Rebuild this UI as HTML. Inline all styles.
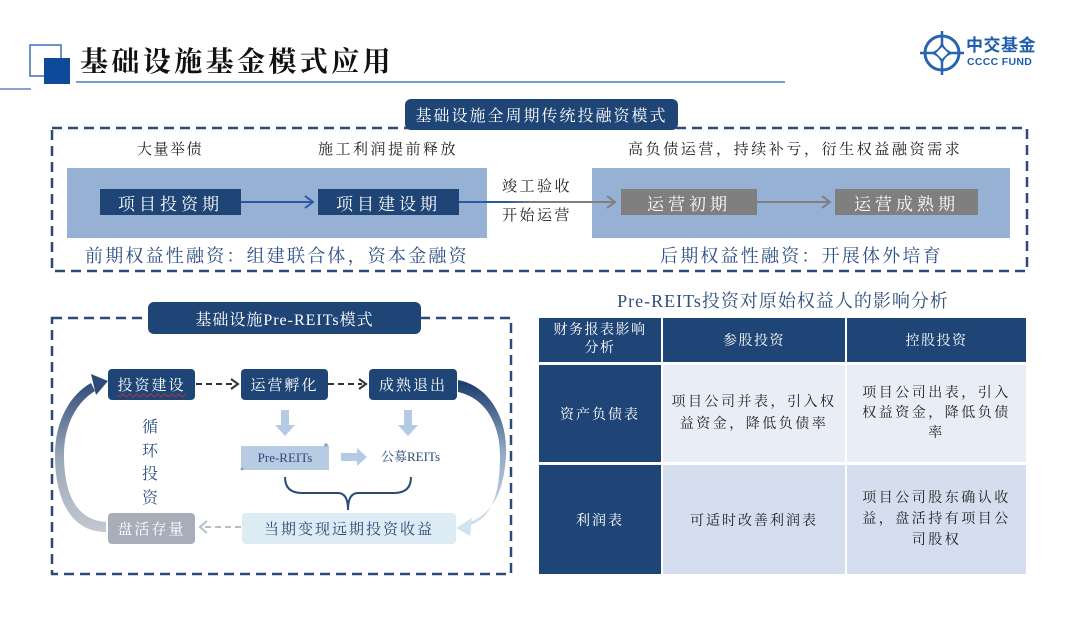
<!DOCTYPE html>
<html>
<head>
<meta charset="utf-8">
<style>
*{margin:0;padding:0;box-sizing:border-box;}
html,body{width:1080px;height:620px;background:#fff;overflow:hidden;}
body{position:relative;font-family:"Liberation Serif","Noto Serif CJK SC",serif;color:#222;}
.a{position:absolute;}
.c{display:flex;align-items:center;justify-content:center;text-align:center;}
.nav{background:#1f4476;color:#fff;}
.t{white-space:nowrap;}
</style>
</head>
<body>

<svg class="a" style="left:0;top:0" width="1080" height="620" viewBox="0 0 1080 620">
  <defs>
    <linearGradient id="gl" x1="0" y1="532" x2="0" y2="380" gradientUnits="userSpaceOnUse">
      <stop offset="0" stop-color="#c3c8d1"/>
      <stop offset="0.5" stop-color="#9aa6b8"/>
      <stop offset="1" stop-color="#2b4a78"/>
    </linearGradient>
    <linearGradient id="gr" x1="0" y1="384" x2="0" y2="530" gradientUnits="userSpaceOnUse">
      <stop offset="0" stop-color="#1f3f6e"/>
      <stop offset="0.45" stop-color="#8ea6c4"/>
      <stop offset="1" stop-color="#d2e3f0"/>
    </linearGradient>
    <linearGradient id="gline" x1="459" y1="0" x2="620" y2="0" gradientUnits="userSpaceOnUse">
      <stop offset="0" stop-color="#2c58a0"/>
      <stop offset="0.3" stop-color="#2c58a0"/>
      <stop offset="0.45" stop-color="#7f7f7f"/>
      <stop offset="1" stop-color="#7f7f7f"/>
    </linearGradient>
  </defs>

  <!-- header decorations -->
  <rect x="30" y="45" width="31" height="31" fill="none" stroke="#3f6fb4" stroke-width="1.5"/>
  <rect x="44" y="58" width="26" height="26" fill="#0e4a9b"/>
  <line x1="0" y1="89" x2="31" y2="89" stroke="#3f6fb4" stroke-width="1.2"/>
  <line x1="76" y1="82" x2="785" y2="82" stroke="#4f7fbe" stroke-width="1.5"/>

  <!-- logo icon -->
  <g stroke="#2a64b0" fill="none">
    <circle cx="942" cy="53" r="17" stroke-width="3"/>
    <line x1="942" y1="31" x2="942" y2="75" stroke-width="2.5"/>
    <line x1="920" y1="53" x2="964" y2="53" stroke-width="2.5"/>
  </g>
  <path d="M942,40 Q944,51 955,53 Q944,55 942,66 Q940,55 929,53 Q940,51 942,40 Z" fill="#2a64b0"/>
  <path d="M942,47 L948,53 L942,59 L936,53 Z" fill="#fff"/>

  <!-- top dashed box -->
  <rect x="52" y="128" width="975" height="143" fill="none" stroke="#2b4a78" stroke-width="2.5" stroke-dasharray="10,6"/>

  <!-- top light rects -->
  <rect x="67" y="168" width="420" height="70" fill="#97b1d4"/>
  <rect x="592" y="168" width="418" height="70" fill="#97b1d4"/>

  <!-- top arrows -->
  <line x1="241" y1="202" x2="312" y2="202" stroke="#2c58a0" stroke-width="2"/>
  <polyline points="305,196 313,202 305,208" fill="none" stroke="#2c58a0" stroke-width="2"/>
  <line x1="459" y1="202" x2="614" y2="202" stroke="url(#gline)" stroke-width="2"/>
  <polyline points="607,196 615,202 607,208" fill="none" stroke="#7f7f7f" stroke-width="2"/>
  <line x1="757" y1="202" x2="829" y2="202" stroke="#7f7f7f" stroke-width="2"/>
  <polyline points="822,196 830,202 822,208" fill="none" stroke="#7f7f7f" stroke-width="2"/>

  <!-- bottom-left dashed box -->
  <rect x="52" y="318" width="459" height="256" fill="none" stroke="#2b4a78" stroke-width="2.5" stroke-dasharray="10,6"/>

  <!-- dashed arrows between top boxes -->
  <line x1="196" y1="384" x2="234" y2="384" stroke="#2b3340" stroke-width="2" stroke-dasharray="6,4"/>
  <polyline points="231,379 238,384 231,389" fill="none" stroke="#2b3340" stroke-width="2"/>
  <line x1="328" y1="384" x2="362" y2="384" stroke="#2b3340" stroke-width="2" stroke-dasharray="6,4"/>
  <polyline points="359,379 366,384 359,389" fill="none" stroke="#2b3340" stroke-width="2"/>

  <!-- down arrows -->
  <path d="M281,410 H289 V425 H295 L285,436 L275,425 H281 Z" fill="#b5cbe3"/>
  <path d="M404,410 H412 V425 H418 L408,436 L398,425 H404 Z" fill="#b5cbe3"/>

  <!-- Pre-REITs scroll -->
  <path d="M241,446 H326 Q329,444 329,447 V470 H243 Q241,470 241,468 Z" fill="#b7cbe3"/>
  <circle cx="326" cy="445" r="1.8" fill="#8fa3bd"/>
  <circle cx="242" cy="469" r="1.5" fill="#8fa3bd"/>
  <!-- right arrow -->
  <path d="M341,453 H357 V448 L367,457 L357,466 V461 H341 Z" fill="#b5cbe3"/>

  <!-- brace -->
  <path d="M285,477 Q285,493 302,493 H338 Q348,493 348,510 Q348,493 358,493 H394 Q411,493 411,477" fill="none" stroke="#2b4a78" stroke-width="2"/>

  <!-- gray dashed arrow -->
  <line x1="241" y1="527" x2="203" y2="527" stroke="#b8bec8" stroke-width="2" stroke-dasharray="6,4"/>
  <polyline points="207,521 200,527 207,533" fill="none" stroke="#b8bec8" stroke-width="2"/>

  <!-- left curved arrow -->
  <path d="M106,522 C74,520 64,490 64,455 C64,424 77,402 95,391 L91,383 C71,394 55,420 55,455 C55,498 70,532 106,532 Z" fill="url(#gl)"/>
  <polygon points="108,381 91,374 96,395" fill="#2b4a78"/>

  <!-- right curved arrow -->
  <path d="M458,380 C490,386 508,420 506,455 C504,495 490,515 470,522 L468,526 C494,518 500,490 500,455 C500,425 486,398 458,392 Z" fill="url(#gr)"/>
  <polygon points="456,528 472,518 470,536" fill="#d2e3f0"/>
</svg>

<!-- title -->
<div class="a t" style="left:80px;top:45px;font-size:28px;letter-spacing:3.4px;font-weight:700;color:#111;line-height:36px;">基础设施基金模式应用</div>

<!-- logo text -->
<div class="a t" style="left:966px;top:36px;font-family:'Liberation Sans','Noto Sans CJK SC',sans-serif;font-weight:700;font-size:17px;color:#1d5fae;line-height:20px;letter-spacing:0.5px;">中交基金</div>
<div class="a t" style="left:967px;top:56px;font-family:'Liberation Sans',sans-serif;font-weight:700;font-size:10.5px;color:#1d5fae;line-height:12px;letter-spacing:0.3px;">CCCC FUND</div>

<!-- top tab -->
<div class="a c nav t" style="left:405px;top:99px;width:273px;height:31px;border-radius:6px;font-size:16px;letter-spacing:2px;">基础设施全周期传统投融资模式</div>

<!-- top labels -->
<div class="a t" style="left:137px;top:140px;font-size:15px;letter-spacing:1.5px;line-height:20px;">大量举债</div>
<div class="a t" style="left:318px;top:140px;font-size:15px;letter-spacing:2.5px;line-height:20px;">施工利润提前释放</div>
<div class="a t" style="left:628px;top:140px;font-size:15px;letter-spacing:2.6px;line-height:20px;">高负债运营，持续补亏，衍生权益融资需求</div>

<div class="a c nav t" style="left:100px;top:189px;width:141px;height:26px;font-size:17px;letter-spacing:4px;">项目投资期</div>
<div class="a c nav t" style="left:318px;top:189px;width:141px;height:26px;font-size:17px;letter-spacing:4px;">项目建设期</div>
<div class="a c t" style="left:621px;top:189px;width:136px;height:26px;background:#7f7f7f;color:#fff;font-size:17px;letter-spacing:4px;">运营初期</div>
<div class="a c t" style="left:835px;top:189px;width:143px;height:26px;background:#7f7f7f;color:#fff;font-size:17px;letter-spacing:4px;">运营成熟期</div>

<div class="a t" style="left:502px;top:177px;font-size:15px;letter-spacing:2.5px;line-height:20px;">竣工验收</div>
<div class="a t" style="left:502px;top:206px;font-size:15px;letter-spacing:2.5px;line-height:20px;">开始运营</div>

<div class="a t" style="left:85px;top:244px;font-size:18px;letter-spacing:2.2px;color:#2d4f85;line-height:24px;">前期权益性融资：组建联合体，资本金融资</div>
<div class="a t" style="left:660px;top:244px;font-size:18px;letter-spacing:2.2px;color:#2d4f85;line-height:24px;">后期权益性融资：开展体外培育</div>

<!-- bottom-left tab -->
<div class="a c nav t" style="left:148px;top:302px;width:273px;height:32px;border-radius:6px;font-size:16px;letter-spacing:1px;">基础设施Pre-REITs模式</div>

<div class="a c nav t" style="left:108px;top:369px;width:87px;height:31px;border-radius:4px;font-size:15px;letter-spacing:2px;"><span style="text-decoration:underline wavy #c03030;text-underline-offset:3px;text-decoration-thickness:1px;">投资建设</span></div>
<div class="a c nav t" style="left:241px;top:369px;width:87px;height:31px;border-radius:4px;font-size:15px;letter-spacing:2px;">运营孵化</div>
<div class="a c nav t" style="left:369px;top:369px;width:88px;height:31px;border-radius:4px;font-size:15px;letter-spacing:2px;">成熟退出</div>

<div class="a c t" style="left:241px;top:446px;width:88px;height:24px;font-size:13px;color:#2b4a78;">Pre-REITs</div>
<div class="a t" style="left:381px;top:448px;font-size:13px;color:#2b4a78;line-height:18px;">公募REITs</div>

<div class="a" style="left:140px;top:416px;width:20px;font-size:16px;line-height:23.5px;color:#2d4f85;text-align:center;">循<br>环<br>投<br>资</div>

<div class="a c t" style="left:108px;top:513px;width:87px;height:31px;border-radius:4px;background:#a7aeb9;color:#fff;font-size:15px;letter-spacing:2px;">盘活存量</div>
<div class="a c t" style="left:242px;top:513px;width:214px;height:31px;border-radius:4px;background:#dcebf4;color:#2b4a78;font-size:15px;letter-spacing:2px;">当期变现远期投资收益</div>

<!-- table title -->
<div class="a c t" style="left:540px;top:288px;width:486px;height:24px;font-size:18px;color:#2d4f7c;letter-spacing:1px;">Pre-REITs投资对原始权益人的影响分析</div>

<!-- table -->
<div class="a c nav" style="left:539px;top:318px;width:122px;height:44px;font-size:14px;line-height:18px;letter-spacing:1.5px;">财务报表影响<br>分析</div>
<div class="a c nav t" style="left:663px;top:318px;width:182px;height:44px;font-size:14px;letter-spacing:1.5px;">参股投资</div>
<div class="a c nav t" style="left:847px;top:318px;width:179px;height:44px;font-size:14px;letter-spacing:1.5px;">控股投资</div>

<div class="a c nav t" style="left:539px;top:365px;width:122px;height:97px;font-size:14px;letter-spacing:2px;">资产负债表</div>
<div class="a c" style="left:663px;top:365px;width:182px;height:97px;background:#e9edf6;font-size:14px;line-height:22px;letter-spacing:2.5px;">项目公司并表，引入权<br>益资金，降低负债率</div>
<div class="a c" style="left:847px;top:365px;width:179px;height:97px;background:#e9edf6;font-size:14px;line-height:20px;letter-spacing:2.5px;">项目公司出表，引入<br>权益资金，降低负债<br>率</div>

<div class="a c nav t" style="left:539px;top:465px;width:122px;height:109px;font-size:14px;letter-spacing:2px;">利润表</div>
<div class="a c t" style="left:663px;top:465px;width:182px;height:109px;background:#d4deee;font-size:14px;letter-spacing:2px;">可适时改善利润表</div>
<div class="a c" style="left:847px;top:465px;width:179px;height:109px;background:#d4deee;font-size:14px;line-height:21px;letter-spacing:2.5px;">项目公司股东确认收<br>益，盘活持有项目公<br>司股权</div>

</body>
</html>
